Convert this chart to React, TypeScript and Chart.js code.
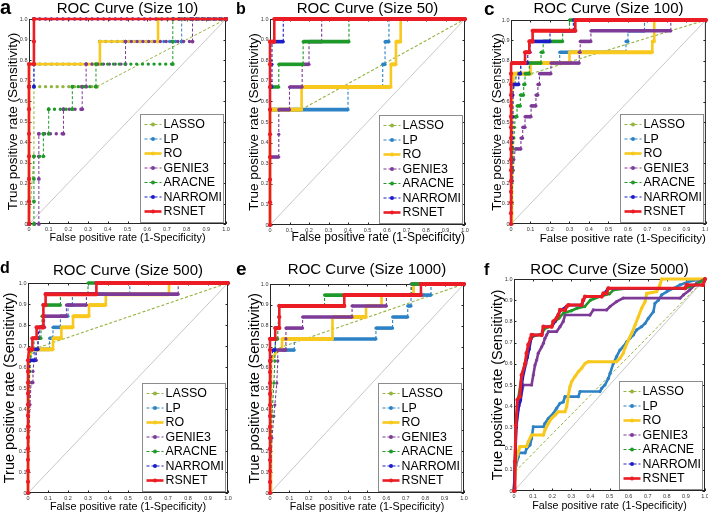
import React, { useEffect, useRef } from 'react';
import { Chart, registerables } from 'chart.js';
Chart.register(...registerables);

const FONT = "'Liberation Sans', Arial, Helvetica, sans-serif";

// ---------- series / categories ----------
const SERIES = ['LASSO', 'LP', 'RO', 'GENIE3', 'ARACNE', 'NARROMI', 'RSNET'];
const TITLES = ['ROC Curve (Size 10)', 'ROC Curve (Size 50)', 'ROC Curve (Size 100)', 'ROC Curve (Size 500)', 'ROC Curve (Size 1000)', 'ROC Curve (Size 5000)'];
const LETTERS = ['a', 'b', 'c', 'd', 'e', 'f'];
const X_TITLE = 'False positive rate (1-Specificity)';
const Y_TITLE = 'True positive rate (Sensitivity)';
const AXIS_MIN = 0;
const AXIS_MAX = 1;
const TICK_STEP = 0.1;
const DIAG: [number, number][] = [[0, 0], [1, 1]];

type Pt = [number, number];

// ---------- panel a (Size 10) ----------
const A_LASSO: Pt[] = [[0, 0], [0.025, 0.33], [0.025, 0.67], [0.345, 0.67], [1, 1]];
const A_LP: Pt[] = [[0, 0], [0, 0.67], [0.025, 0.67], [0.025, 0.78], [0.36, 0.78], [0.36, 0.89], [0.775, 0.89], [0.775, 1], [1, 1]];
const A_RO: Pt[] = [[0, 0], [0, 0.78], [0.36, 0.78], [0.36, 0.89], [0.655, 0.89], [0.655, 1], [1, 1]];
const A_GENIE3: Pt[] = [[0, 0], [0.05, 0], [0.05, 0.22], [0.05, 0.33], [0.05, 0.44], [0.175, 0.44], [0.175, 0.56], [0.27, 0.56], [0.27, 0.67], [0.29, 0.67], [0.29, 0.78], [0.49, 0.78], [0.49, 0.89], [0.83, 0.89], [0.83, 1], [1, 1]];
const A_ARACNE: Pt[] = [[0, 0], [0.025, 0], [0.025, 0.11], [0.025, 0.22], [0.025, 0.33], [0.073, 0.33], [0.073, 0.44], [0.1, 0.44], [0.1, 0.56], [0.22, 0.56], [0.22, 0.67], [0.34, 0.67], [0.34, 0.78], [0.73, 0.78], [0.73, 0.89], [0.73, 1], [1, 1]];
const A_NARROMI: Pt[] = [[0, 0], [0, 0.67], [0.025, 0.67], [0.025, 0.78], [0.025, 1], [1, 1]];
const A_RSNET: Pt[] = [[0, 0], [0, 0.11], [0, 0.22], [0, 0.33], [0, 0.44], [0, 0.56], [0, 0.67], [0, 0.78], [0.025, 0.78], [0.025, 0.89], [0.025, 1], [1, 1]];

// ---------- panel b (Size 50) ----------
const B_LASSO: Pt[] = [[0, 0], [0, 0.56], [0.16, 0.56], [1, 1]];
const B_LP: Pt[] = [[0, 0], [0, 0.56], [0.4, 0.56], [0.4, 0.67], [0.578, 0.67], [0.578, 0.78], [0.59, 0.78], [0.59, 0.89], [0.61, 0.89], [0.61, 1], [1, 1]];
const B_RO: Pt[] = [[0, 0], [0, 0.56], [0.162, 0.56], [0.162, 0.67], [0.62, 0.67], [0.62, 0.78], [0.646, 0.78], [0.646, 0.89], [0.67, 0.89], [0.67, 1], [1, 1]];
const B_GENIE3: Pt[] = [[0, 0], [0, 0.33], [0.045, 0.33], [0.045, 0.44], [0.045, 0.56], [0.1, 0.56], [0.1, 0.67], [0.165, 0.67], [0.165, 0.78], [0.2, 0.78], [0.2, 0.89], [0.265, 0.89], [0.265, 1], [1, 1]];
const B_ARACNE: Pt[] = [[0, 0], [0, 0.67], [0.045, 0.67], [0.045, 0.78], [0.17, 0.78], [0.17, 0.89], [0.405, 0.89], [0.405, 1], [1, 1]];
const B_NARROMI: Pt[] = [[0, 0], [0, 0.67], [0.01, 0.67], [0.01, 0.78], [0.01, 0.89], [0.068, 0.89], [0.068, 1], [1, 1]];
const B_RSNET: Pt[] = [[0, 0], [0, 0.11], [0, 0.22], [0, 0.33], [0, 0.44], [0, 0.56], [0, 0.67], [0, 0.78], [0, 0.89], [0.022, 0.89], [0.022, 1], [1, 1]];

// ---------- panel c (Size 100) ----------
const C_LASSO: Pt[] = [[0, 0], [0.01, 0.684], [0.03, 0.737], [0.103, 0.737], [1, 1]];
const C_LP: Pt[] = [[0, 0], [0.005, 0.632], [0.02, 0.684], [0.03, 0.737], [0.05, 0.737], [0.05, 0.789], [0.25, 0.789], [0.25, 0.842], [0.59, 0.842], [0.59, 0.895], [0.6, 0.895], [0.6, 0.947], [0.685, 0.947], [0.685, 1], [1, 1]];
const C_RO: Pt[] = [[0, 0], [0.005, 0.684], [0.012, 0.684], [0.012, 0.737], [0.1, 0.737], [0.1, 0.789], [0.3, 0.789], [0.3, 0.842], [0.725, 0.842], [0.725, 0.895], [0.735, 0.895], [0.735, 1], [1, 1]];
const C_GENIE3: Pt[] = [[0, 0], [0.005, 0.105], [0.008, 0.211], [0.012, 0.263], [0.015, 0.316], [0.022, 0.368], [0.051, 0.368], [0.051, 0.421], [0.06, 0.421], [0.06, 0.474], [0.072, 0.474], [0.072, 0.526], [0.103, 0.526], [0.103, 0.579], [0.128, 0.579], [0.128, 0.632], [0.138, 0.632], [0.138, 0.684], [0.146, 0.684], [0.146, 0.737], [0.205, 0.737], [0.205, 0.789], [0.35, 0.789], [0.35, 0.842], [0.355, 0.842], [0.355, 0.895], [0.41, 0.895], [0.41, 0.947], [0.82, 0.947], [0.82, 1], [1, 1]];
const C_ARACNE: Pt[] = [[0, 0], [0.005, 0.105], [0.008, 0.263], [0.01, 0.316], [0.012, 0.368], [0.015, 0.421], [0.018, 0.474], [0.022, 0.526], [0.031, 0.526], [0.031, 0.579], [0.048, 0.579], [0.048, 0.632], [0.065, 0.632], [0.065, 0.684], [0.072, 0.684], [0.072, 0.737], [0.094, 0.737], [0.094, 0.789], [0.154, 0.789], [0.154, 0.842], [0.165, 0.842], [0.165, 0.895], [0.265, 0.895], [0.265, 0.947], [0.3, 0.947], [0.3, 1], [1, 1]];
const C_NARROMI: Pt[] = [[0, 0], [0.005, 0.316], [0.008, 0.421], [0.01, 0.526], [0.01, 0.632], [0.012, 0.684], [0.04, 0.684], [0.04, 0.737], [0.05, 0.737], [0.05, 0.789], [0.086, 0.789], [0.086, 0.842], [0.098, 0.842], [0.098, 0.895], [0.2, 0.895], [0.2, 0.947], [0.32, 0.947], [0.32, 1], [1, 1]];
const C_RSNET: Pt[] = [[0, 0], [0, 0.053], [0, 0.105], [0, 0.158], [0, 0.211], [0, 0.263], [0, 0.316], [0, 0.368], [0, 0.421], [0, 0.474], [0, 0.526], [0, 0.579], [0, 0.632], [0, 0.684], [0, 0.737], [0.005, 0.789], [0.072, 0.789], [0.072, 0.842], [0.094, 0.842], [0.094, 0.895], [0.111, 0.895], [0.111, 0.947], [0.33, 0.947], [0.33, 1], [1, 1]];

// ---------- panel d (Size 500) ----------
const D_LASSO: Pt[] = [[0, 0], [0.005, 0.632], [0.025, 0.684], [1, 1]];
const D_LP: Pt[] = [[0, 0], [0.005, 0.632], [0.04, 0.684], [0.108, 0.684], [0.108, 0.737], [0.125, 0.737], [0.125, 0.789], [0.162, 0.789], [0.162, 0.842], [0.2, 0.842], [0.2, 0.895], [0.222, 0.895], [0.222, 0.947], [0.509, 0.947], [0.509, 1], [1, 1]];
const D_RO: Pt[] = [[0, 0], [0.005, 0.632], [0.02, 0.684], [0.125, 0.684], [0.125, 0.737], [0.167, 0.737], [0.167, 0.789], [0.225, 0.789], [0.225, 0.842], [0.305, 0.842], [0.305, 0.895], [0.389, 0.895], [0.389, 0.947], [0.705, 0.947], [0.705, 1], [1, 1]];
const D_GENIE3: Pt[] = [[0, 0], [0.005, 0.316], [0.01, 0.421], [0.015, 0.526], [0.025, 0.526], [0.025, 0.579], [0.03, 0.632], [0.042, 0.632], [0.042, 0.684], [0.05, 0.684], [0.05, 0.737], [0.058, 0.737], [0.058, 0.789], [0.083, 0.789], [0.083, 0.842], [0.192, 0.842], [0.192, 0.895], [0.292, 0.895], [0.292, 0.947], [0.751, 0.947], [0.751, 1], [1, 1]];
const D_ARACNE: Pt[] = [[0, 0], [0.005, 0.526], [0.01, 0.579], [0.012, 0.632], [0.015, 0.684], [0.03, 0.684], [0.03, 0.737], [0.065, 0.737], [0.065, 0.789], [0.07, 0.789], [0.07, 0.842], [0.075, 0.842], [0.075, 0.895], [0.162, 0.895], [0.162, 0.947], [0.3, 0.947], [0.3, 1], [1, 1]];
const D_NARROMI: Pt[] = [[0, 0], [0.005, 0.579], [0.01, 0.632], [0.035, 0.632], [0.035, 0.684], [0.05, 0.684], [0.05, 0.737], [0.055, 0.789], [0.077, 0.789], [0.077, 0.895], [0.088, 0.895], [0.088, 0.947], [0.34, 0.947], [0.34, 1], [1, 1]];
const D_RSNET: Pt[] = [[0, 0], [0, 0.053], [0, 0.105], [0, 0.158], [0, 0.211], [0, 0.263], [0, 0.316], [0, 0.368], [0, 0.421], [0, 0.474], [0, 0.526], [0, 0.579], [0, 0.632], [0.005, 0.684], [0.022, 0.684], [0.022, 0.737], [0.043, 0.737], [0.043, 0.789], [0.077, 0.789], [0.077, 0.842], [0.077, 0.895], [0.088, 0.895], [0.088, 0.947], [0.342, 0.947], [0.342, 1], [1, 1]];

// ---------- panel e (Size 1000) ----------
const E_LASSO: Pt[] = [[0, 0], [0.005, 0.632], [0.015, 0.684], [1, 1]];
const E_LP: Pt[] = [[0, 0], [0.005, 0.632], [0.03, 0.684], [0.125, 0.684], [0.125, 0.737], [0.546, 0.737], [0.546, 0.789], [0.632, 0.789], [0.632, 0.842], [0.71, 0.842], [0.71, 0.895], [0.727, 0.895], [0.727, 0.947], [0.83, 0.947], [0.83, 1], [1, 1]];
const E_RO: Pt[] = [[0, 0], [0.005, 0.632], [0.04, 0.684], [0.062, 0.684], [0.062, 0.737], [0.322, 0.737], [0.322, 0.789], [0.322, 0.842], [0.495, 0.842], [0.495, 0.895], [0.575, 0.895], [0.575, 0.947], [0.74, 0.947], [0.74, 1], [1, 1]];
const E_GENIE3: Pt[] = [[0, 0], [0.01, 0.263], [0.02, 0.368], [0.025, 0.421], [0.035, 0.526], [0.04, 0.632], [0.04, 0.684], [0.082, 0.684], [0.082, 0.737], [0.082, 0.789], [0.168, 0.789], [0.168, 0.842], [0.423, 0.842], [0.423, 0.895], [0.6, 0.895], [0.6, 0.947], [0.727, 0.947], [0.727, 1], [1, 1]];
const E_ARACNE: Pt[] = [[0, 0], [0.01, 0.368], [0.02, 0.526], [0.025, 0.632], [0.025, 0.684], [0.03, 0.737], [0.04, 0.737], [0.04, 0.789], [0.045, 0.842], [0.048, 0.895], [0.281, 0.895], [0.281, 0.947], [0.73, 0.947], [0.73, 1], [1, 1]];
const E_NARROMI: Pt[] = [[0, 0], [0.005, 0.632], [0.015, 0.684], [0.027, 0.684], [0.027, 0.737], [0.027, 0.789], [0.048, 0.789], [0.048, 0.895], [0.383, 0.895], [0.383, 0.947], [0.778, 0.947], [0.778, 1], [1, 1]];
const E_RSNET: Pt[] = [[0, 0], [0, 0.053], [0, 0.105], [0, 0.158], [0, 0.211], [0, 0.263], [0, 0.316], [0, 0.368], [0, 0.421], [0, 0.474], [0, 0.526], [0, 0.579], [0, 0.632], [0, 0.684], [0, 0.737], [0.027, 0.737], [0.027, 0.789], [0.048, 0.789], [0.048, 0.842], [0.048, 0.895], [0.383, 0.895], [0.383, 0.947], [0.778, 0.947], [0.778, 1], [1, 1]];

// ---------- panel f (Size 5000) ----------
const F_LASSO: Pt[] = [[0, 0], [0.004, 0.09], [1, 1]];
const F_LP: Pt[] = [[0, 0], [0.01, 0.12], [0.023, 0.162], [0.023, 0.18], [0.058, 0.18], [0.066, 0.2], [0.084, 0.217], [0.092, 0.248], [0.101, 0.303], [0.154, 0.303], [0.162, 0.319], [0.18, 0.343], [0.206, 0.366], [0.223, 0.39], [0.241, 0.414], [0.258, 0.42], [0.267, 0.445], [0.337, 0.445], [0.346, 0.469], [0.45, 0.469], [0.459, 0.484], [0.476, 0.5], [0.494, 0.531], [0.503, 0.555], [0.52, 0.602], [0.537, 0.634], [0.555, 0.665], [0.572, 0.681], [0.59, 0.704], [0.607, 0.72], [0.625, 0.736], [0.642, 0.76], [0.668, 0.775], [0.686, 0.79], [0.703, 0.814], [0.73, 0.846], [0.738, 0.885], [0.756, 0.9], [0.773, 0.925], [0.8, 0.94], [0.834, 0.956], [0.869, 0.972], [0.913, 0.987], [0.956, 0.995], [1, 1]];
const F_RO: Pt[] = [[0, 0], [0.01, 0.146], [0.023, 0.186], [0.031, 0.21], [0.066, 0.21], [0.075, 0.233], [0.092, 0.264], [0.154, 0.264], [0.162, 0.288], [0.18, 0.319], [0.197, 0.343], [0.215, 0.358], [0.232, 0.374], [0.267, 0.374], [0.276, 0.398], [0.285, 0.453], [0.293, 0.492], [0.302, 0.516], [0.319, 0.54], [0.337, 0.563], [0.354, 0.579], [0.372, 0.602], [0.39, 0.61], [0.537, 0.61], [0.555, 0.626], [0.572, 0.65], [0.58, 0.673], [0.599, 0.712], [0.616, 0.744], [0.634, 0.783], [0.651, 0.822], [0.668, 0.862], [0.686, 0.893], [0.695, 0.932], [0.747, 0.94], [0.764, 0.972], [0.773, 1], [1, 1]];
const F_GENIE3: Pt[] = [[0, 0], [0.005, 0.14], [0.01, 0.3], [0.02, 0.38], [0.031, 0.42], [0.049, 0.5], [0.092, 0.5], [0.101, 0.547], [0.11, 0.594], [0.119, 0.618], [0.127, 0.65], [0.145, 0.68], [0.154, 0.697], [0.162, 0.72], [0.171, 0.736], [0.18, 0.752], [0.223, 0.752], [0.241, 0.775], [0.258, 0.8], [0.267, 0.83], [0.398, 0.83], [0.415, 0.854], [0.485, 0.854], [0.503, 0.87], [0.537, 0.893], [0.572, 0.91], [0.87, 0.91], [0.887, 0.925], [0.92, 0.948], [0.956, 0.98], [1, 1]];
const F_ARACNE: Pt[] = [[0, 0], [0.005, 0.138], [0.01, 0.3], [0.023, 0.44], [0.04, 0.54], [0.058, 0.6], [0.07, 0.65], [0.08, 0.69], [0.09, 0.72], [0.1, 0.73], [0.145, 0.74], [0.16, 0.765], [0.2, 0.78], [0.215, 0.8], [0.235, 0.815], [0.26, 0.84], [0.3, 0.85], [0.33, 0.862], [0.37, 0.87], [0.4, 0.9], [0.45, 0.917], [0.5, 0.93], [0.52, 0.948], [0.6, 0.956], [0.895, 0.956], [0.95, 0.972], [1, 1]];
const F_NARROMI: Pt[] = [[0, 0], [0.006, 0.14], [0.012, 0.3], [0.025, 0.4], [0.035, 0.43], [0.045, 0.53], [0.062, 0.6], [0.07, 0.63], [0.08, 0.67], [0.09, 0.72], [0.1, 0.736], [0.145, 0.736], [0.154, 0.775], [0.197, 0.775], [0.215, 0.8], [0.241, 0.85], [0.285, 0.877], [0.354, 0.877], [0.372, 0.917], [0.459, 0.917], [0.494, 0.956], [0.895, 0.956], [0.904, 0.972], [0.99, 0.972], [1, 1]];
const F_RSNET: Pt[] = [[0, 0], [0.005, 0.138], [0.01, 0.31], [0.018, 0.43], [0.03, 0.445], [0.04, 0.547], [0.058, 0.6], [0.066, 0.65], [0.075, 0.69], [0.087, 0.72], [0.092, 0.736], [0.145, 0.736], [0.154, 0.775], [0.197, 0.775], [0.206, 0.8], [0.223, 0.815], [0.232, 0.83], [0.241, 0.854], [0.267, 0.854], [0.276, 0.87], [0.285, 0.877], [0.354, 0.877], [0.362, 0.9], [0.372, 0.917], [0.459, 0.917], [0.468, 0.932], [0.485, 0.932], [0.494, 0.956], [0.895, 0.956], [0.904, 0.972], [0.99, 0.972], [1, 1]];

const PANEL_DATA: Pt[][][] = [
  [A_LASSO, A_LP, A_RO, A_GENIE3, A_ARACNE, A_NARROMI, A_RSNET],
  [B_LASSO, B_LP, B_RO, B_GENIE3, B_ARACNE, B_NARROMI, B_RSNET],
  [C_LASSO, C_LP, C_RO, C_GENIE3, C_ARACNE, C_NARROMI, C_RSNET],
  [D_LASSO, D_LP, D_RO, D_GENIE3, D_ARACNE, D_NARROMI, D_RSNET],
  [E_LASSO, E_LP, E_RO, E_GENIE3, E_ARACNE, E_NARROMI, E_RSNET],
  [F_LASSO, F_LP, F_RO, F_GENIE3, F_ARACNE, F_NARROMI, F_RSNET],
];

// ---------- styles ----------
const COLORS = ['#93b43e', '#2c82c4', '#f8c81c', '#7d3a97', '#1f9a2a', '#1c1cc8', '#ec1c24'];
const SOLID = [false, false, true, false, false, false, true];
const MODES = ['sparse', 'dense', 'dense', 'dense', 'dense', 'smooth'];
const TITLE_SIZE = 15;

// layout of each panel (page pixels)
const LAYOUT = [
  { L: 0, T: 0, W: 236, H: 252, pl: 29, pt: 19, pr: 226, pb: 224, titleY: 8.5, xTitleY: 238, yTitleX: 13, xFont: 10.8, xAlign: 'center', yFont: 13.5, lSize: 20, lX: 0, lY: 14 },
  { L: 236, T: 0, W: 236, H: 252, pl: 270, pt: 19, pr: 465, pb: 225, titleY: 8.5, xTitleY: 238, yTitleX: 254, xFont: 12, xAlign: 'end', yFont: 13.5, lSize: 16, lX: 236, lY: 14 },
  { L: 472, T: 0, W: 236, H: 252, pl: 511, pt: 20, pr: 706, pb: 224, titleY: 9, xTitleY: 239, yTitleX: 497, xFont: 11.5, xAlign: 'end', yFont: 13.5, lSize: 19, lX: 484, lY: 15 },
  { L: 0, T: 255, W: 236, H: 260, pl: 28, pt: 283, pr: 228, pb: 493, titleY: 271, xTitleY: 507, yTitleX: 10, xFont: 10.8, xAlign: 'center', yFont: 14.5, lSize: 16, lX: 0, lY: 273 },
  { L: 236, T: 255, W: 236, H: 260, pl: 270, pt: 284, pr: 464, pb: 493, titleY: 270, xTitleY: 507, yTitleX: 254.5, xFont: 10.7, xAlign: 'center', yFont: 14.5, lSize: 19, lX: 236, lY: 275 },
  { L: 472, T: 255, W: 236, H: 260, pl: 514, pt: 279, pr: 705, pb: 491, titleY: 270, xTitleY: 506, yTitleX: 498, xFont: 10.7, xAlign: 'center', yFont: 14.5, lSize: 16, lX: 484, lY: 275 },
];

function isH(ctx: any) { return Math.abs(ctx.p0.parsed.y - ctx.p1.parsed.y) < 1e-9; }

function makeSegment(mode: string, si: number) {
  const solid = SOLID[si];
  const lasso = si === 0;
  return {
    borderWidth: (ctx: any) => {
      const h = isH(ctx);
      if (mode === 'smooth') return lasso ? 1 : solid ? 3 : 2.6;
      if (mode === 'sparse') return solid ? 2.6 : h ? 3.4 : 1;
      if (solid) return h ? 4 : 2.6;
      return h ? 3.6 : 1.1;
    },
    borderDash: (ctx: any) => {
      const h = isH(ctx);
      if (solid) return [];
      if (mode === 'smooth') return lasso ? [3, 2] : [];
      if (mode === 'sparse') return h ? [0.01, 5.8] : [3, 2];
      return h ? [] : [3, 2];
    },
    borderCapStyle: (ctx: any) => (mode === 'sparse' && !solid && isH(ctx) ? 'round' : 'butt'),
  };
}

const decoPlugin = {
  id: 'deco',
  beforeDatasetsDraw(chart: any) {
    const { ctx, chartArea: ca, scales } = chart;
    ctx.save();
    ctx.strokeStyle = '#262626';
    ctx.lineWidth = 1;
    ctx.strokeRect(ca.left + 0.5, ca.top + 0.5, ca.right - ca.left - 1, ca.bottom - ca.top - 1);
    const tl = 2.5;
    ctx.beginPath();
    scales.x.ticks.forEach((t: any) => {
      const px = Math.round(scales.x.getPixelForValue(t.value)) + 0.5;
      ctx.moveTo(px, ca.bottom); ctx.lineTo(px, ca.bottom - tl);
      ctx.moveTo(px, ca.top); ctx.lineTo(px, ca.top + tl);
    });
    scales.y.ticks.forEach((t: any) => {
      const py = Math.round(scales.y.getPixelForValue(t.value)) + 0.5;
      ctx.moveTo(ca.left, py); ctx.lineTo(ca.left + tl, py);
      ctx.moveTo(ca.right, py); ctx.lineTo(ca.right - tl, py);
    });
    ctx.stroke();
    ctx.restore();
  },
  afterDatasetsDraw(chart: any) {
    const { ctx, chartArea: ca } = chart;
    const w = 83, h = 108;
    const bx = Math.round(ca.right - 3 - w) + 0.5;
    const by = Math.round(ca.bottom - 2 - h) + 0.5;
    ctx.save();
    ctx.fillStyle = '#ffffff';
    ctx.fillRect(bx, by, w, h);
    ctx.strokeStyle = '#8c8c8c';
    ctx.lineWidth = 1;
    ctx.strokeRect(bx, by, w, h);
    const sets = chart.data.datasets.filter((d: any) => SERIES.includes(d.label));
    sets.forEach((d: any, i: number) => {
      const si = SERIES.indexOf(d.label);
      const yy = by + 10 + i * 14.5;
      ctx.strokeStyle = d.borderColor;
      ctx.lineWidth = SOLID[si] ? 2.6 : 1.1;
      ctx.setLineDash(SOLID[si] ? [] : [3, 2]);
      ctx.beginPath();
      ctx.moveTo(bx + 4, yy);
      ctx.lineTo(bx + 21, yy);
      ctx.stroke();
      ctx.setLineDash([]);
      ctx.fillStyle = d.borderColor;
      ctx.beginPath();
      ctx.arc(bx + 12.5, yy, 2, 0, Math.PI * 2);
      ctx.fill();
      ctx.fillStyle = '#000';
      ctx.font = `12.4px ${FONT}`;
      ctx.textBaseline = 'middle';
      ctx.textAlign = 'left';
      ctx.fillText(d.label, bx + 23, yy + 0.5);
    });
    ctx.restore();
  },
  afterDraw(chart: any) {
    const o = chart.options.plugins.deco;
    const { ctx } = chart;
    ctx.save();
    ctx.fillStyle = '#000';
    ctx.font = `bold ${o.size}px ${FONT}`;
    ctx.textBaseline = 'alphabetic';
    ctx.textAlign = 'left';
    ctx.fillText(o.letter, o.x, o.y);
    ctx.restore();
  },
};

function Panel({ idx }: { idx: number }) {
  const ref = useRef<HTMLCanvasElement>(null);
  const lay = LAYOUT[idx];
  useEffect(() => {
    const mode = MODES[idx];
    const wy = lay.pl - lay.L;
    const hx = lay.T + lay.H - lay.pb;
    const padR = lay.L + lay.W - lay.pr;
    const titleH = lay.pt - lay.T;
    const tTop = lay.titleY - lay.T - TITLE_SIZE / 2;
    const tBot = titleH - TITLE_SIZE - tTop;
    const xPadB = lay.T + lay.H - lay.xTitleY - (lay.xFont * 1.2) / 2;
    const yPadT = lay.yTitleX - lay.L - (lay.yFont * 1.2) / 2;

    const datasets: any[] = PANEL_DATA[idx].map((pts, si) => ({
      label: SERIES[si],
      data: pts.map(([x, y]) => ({ x, y })),
      borderColor: COLORS[si],
      backgroundColor: COLORS[si],
      pointBackgroundColor: COLORS[si],
      pointBorderWidth: 0,
      pointRadius: si === 6 ? 2.1 : mode === 'sparse' ? 1.9 : 1.6,
      pointHoverRadius: 0,
      borderWidth: 1,
      borderDash: SOLID[si] ? [] : [3, 2],
      segment: makeSegment(mode, si),
      tension: 0,
      fill: false,
      order: 7 - si,
      clip: 6,
    }));
    datasets.push({
      label: 'diagonal',
      data: DIAG.map(([x, y]) => ({ x, y })),
      borderColor: '#b9b9b9',
      borderWidth: 0.8,
      pointRadius: 0,
      fill: false,
      order: 20,
    });

    const axisFont = { size: 5.5, family: FONT };
    const chart = new Chart(ref.current as HTMLCanvasElement, {
      type: 'line',
      data: { datasets },
      options: {
        animation: false,
        responsive: false,
        maintainAspectRatio: false,
        devicePixelRatio: 1,
        events: [],
        layout: { padding: { left: 0, right: padR, top: 0, bottom: 0 } },
        plugins: {
          legend: { display: false },
          tooltip: { enabled: false },
          title: {
            display: true,
            text: TITLES[idx],
            fullSize: false,
            color: '#000',
            font: { size: TITLE_SIZE, family: FONT, lineHeight: 1, weight: 'normal' },
            padding: { top: tTop, bottom: tBot },
          },
          deco: { letter: LETTERS[idx], size: lay.lSize, x: lay.lX - lay.L, y: lay.lY - lay.T },
        } as any,
        scales: {
          x: {
            type: 'linear',
            min: AXIS_MIN,
            max: AXIS_MAX,
            grid: { display: false, drawTicks: false },
            border: { display: false },
            ticks: { stepSize: TICK_STEP, autoSkip: false, maxRotation: 0, font: axisFont, color: '#333', padding: 2.5 },
            title: { display: true, text: X_TITLE, align: lay.xAlign, color: '#000', font: { size: lay.xFont, family: FONT }, padding: { top: 0, bottom: xPadB } },
            afterFit: (s: any) => { s.height = hx; s.paddingLeft = 0; s.paddingRight = 0; },
          },
          y: {
            type: 'linear',
            min: AXIS_MIN,
            max: AXIS_MAX,
            grid: { display: false, drawTicks: false },
            border: { display: false },
            ticks: { stepSize: TICK_STEP, autoSkip: false, font: axisFont, color: '#333', padding: 1.5 },
            title: { display: true, text: Y_TITLE, color: '#000', font: { size: lay.yFont, family: FONT }, padding: { top: yPadT, bottom: 0 } },
            afterFit: (s: any) => { s.width = wy; s.paddingTop = 0; s.paddingBottom = 0; },
          },
        },
      } as any,
      plugins: [decoPlugin],
    });
    return () => chart.destroy();
  }, [idx]);
  return (
    <canvas
      ref={ref}
      width={lay.W}
      height={lay.H}
      style={{ position: 'absolute', left: lay.L, top: lay.T, width: lay.W, height: lay.H }}
    />
  );
}

export default function App() {
  return (
    <div style={{ position: 'absolute', left: 0, top: 0, width: 708, height: 515, background: '#fff', overflow: 'hidden' }}>
      {LAYOUT.map((_, i) => (
        <Panel key={i} idx={i} />
      ))}
    </div>
  );
}
